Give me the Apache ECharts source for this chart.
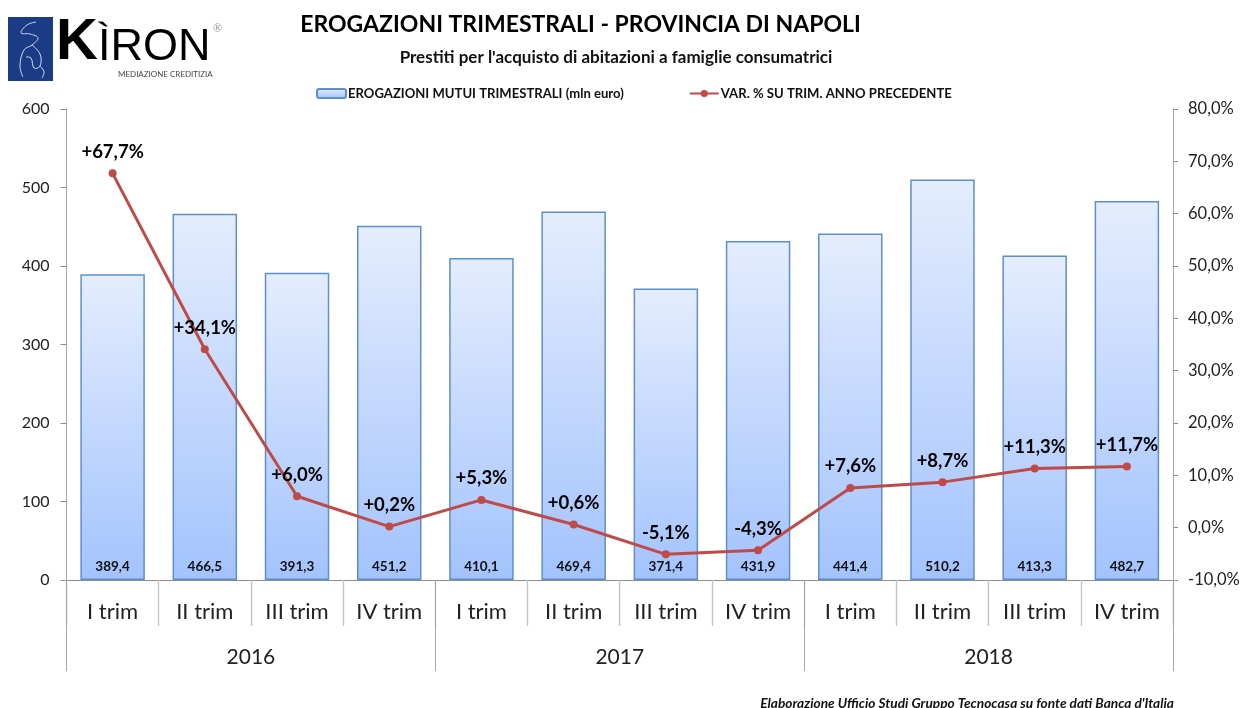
<!DOCTYPE html>
<html><head><meta charset="utf-8">
<style>html,body{margin:0;padding:0;background:#fff}#c{width:1248px;height:708px}</style>
<script src="https://cdn.jsdelivr.net/npm/echarts@6/dist/echarts.min.js"></script>
</head><body><div id="c"></div>
<script>
const quarters=['I trim','II trim','III trim','IV trim','I trim','II trim','III trim','IV trim','I trim','II trim','III trim','IV trim'];
const years=['2016','2017','2018'];
const erogazioni=[389.4,466.5,391.3,451.2,410.1,469.4,371.4,431.9,441.4,510.2,413.3,482.7];
const variazioni=[67.7,34.1,6.0,0.2,5.3,0.6,-5.1,-4.3,7.6,8.7,11.3,11.7];
const barName='EROGAZIONI MUTUI TRIMESTRALI (mln euro)';
const lineName='VAR. % SU TRIM. ANNO PRECEDENTE';
const F='Lato, "Open Sans", sans-serif';
const comma=(v,d)=>v.toFixed(d).replace('.',',');
const chart=echarts.init(document.getElementById('c'),null,{renderer:'canvas'});
const axisGray='#a6a6a6';
const grad=new echarts.graphic.LinearGradient(0,0,0,1,[{offset:0,color:'#e4edfd'},{offset:1,color:'#a3c3fd'}]);
const logoStroke={fill:'none',stroke:'#cfd8ee',lineWidth:1};
chart.setOption({
  animation:false,
  backgroundColor:'#fff',
  textStyle:{fontFamily:F},
  title:[
    {text:'EROGAZIONI TRIMESTRALI - PROVINCIA DI NAPOLI',left:575.5,top:8,textAlign:'center',
      textStyle:{fontFamily:F,fontSize:23,fontWeight:'bold',color:'#000'}},
    {text:"Prestiti per l'acquisto di abitazioni a famiglie consumatrici",left:611,top:44,textAlign:'center',
      textStyle:{fontFamily:F,fontSize:17,fontWeight:'bold',color:'#111'}},
    {text:"Elaborazione Ufficio Studi Gruppo Tecnocasa su fonte dati Banca d'Italia",left:1169,top:692,textAlign:'right',
      textStyle:{fontFamily:F,fontSize:13.7,fontWeight:'bold',fontStyle:'italic',color:'#111'}}
  ],
  legend:{
    top:82,left:311,itemGap:65,itemWidth:29,itemHeight:9,
    selectedMode:false,
    textStyle:{fontFamily:F,fontSize:13.1,fontWeight:'bold',color:'#111',padding:[0,0,0,-3]},
    data:[{name:barName},{name:lineName}]
  },
  grid:{left:66.5,right:75,top:109,bottom:128,containLabel:false},
  xAxis:[
    {type:'category',data:quarters,position:'bottom',
      axisLine:{show:true,onZero:false,lineStyle:{color:'#8c8c8c',width:1}},
      axisTick:{show:true,interval:0,length:46,alignWithLabel:false,lineStyle:{color:'#c4c4c4',width:1.4}},
      axisLabel:{interval:0,fontFamily:F,fontSize:22,color:'#222',margin:21}},
    {type:'category',data:years,position:'bottom',
      axisLine:{show:false},
      axisTick:{show:true,interval:0,length:91,alignWithLabel:false,lineStyle:{color:'#a6a6a6',width:1}},
      axisLabel:{interval:0,fontFamily:F,fontSize:21,color:'#222',margin:67}}
  ],
  yAxis:[
    {type:'value',min:0,max:600,interval:100,
      axisLine:{show:true,lineStyle:{color:axisGray}},
      axisTick:{show:true,length:6,lineStyle:{color:'#8c8c8c'}},
      splitLine:{show:false},
      axisLabel:{fontFamily:F,fontSize:16,color:'#222',margin:17}},
    {type:'value',min:-10,max:80,interval:10,position:'right',
      axisLine:{show:true,lineStyle:{color:axisGray}},
      axisTick:{show:true,length:5,lineStyle:{color:'#8c8c8c'}},
      splitLine:{show:false},
      axisLabel:{fontFamily:F,fontSize:16.5,color:'#222',margin:15,formatter:v=>comma(v,1)+'%'}}
  ],
  series:[
    {name:barName,type:'bar',xAxisIndex:0,yAxisIndex:0,data:erogazioni,barWidth:64.5,
      itemStyle:{color:grad,borderColor:'#5f8fcb',borderWidth:1.5},
      label:{show:true,position:'insideBottom',distance:6,fontFamily:F,fontSize:13.5,fontWeight:'bold',color:'#111',
        formatter:p=>comma(p.value,1)},
      z:2},
    {name:lineName,type:'line',xAxisIndex:0,yAxisIndex:1,data:variazioni,
      symbol:'circle',symbolSize:8,
      lineStyle:{color:'#be4b48',width:3},
      itemStyle:{color:'#be4b48'},
      label:{show:true,position:'top',distance:8,fontFamily:F,fontSize:18.5,fontWeight:'bold',color:'#000',
        formatter:p=>(p.value>=0?'+':'')+comma(p.value,1)+'%'},
      z:3}
  ],
  graphic:{elements:[
    {type:'rect',shape:{x:8,y:17,width:45,height:64},style:{fill:'#1c3b87'}},
    {type:'polyline',shape:{smooth:0.4,points:[[36,22],[27,25],[21,33],[30,34],[38,38],[32,45],[24,50],[20,66],[23,77]]},style:logoStroke},
    {type:'polyline',shape:{smooth:0.4,points:[[32,45],[40,54],[40,66],[34,68],[31,58],[26,57]]},style:logoStroke},
    {type:'polyline',shape:{smooth:0.4,points:[[40,66],[44,72],[42,78]]},style:logoStroke},
    {type:'text',x:56,y:14,style:{text:'K',fontFamily:'"Liberation Sans",sans-serif',fontWeight:'bold',fontSize:58,fill:'#000'}},
    {type:'text',x:98,y:25,style:{text:'ÌRON',fontFamily:'"Liberation Sans",sans-serif',fontSize:45,fill:'#000'}},
    {type:'text',x:118,y:70,style:{text:'MEDIAZIONE CREDITIZIA',fontFamily:F,fontSize:8,fill:'#444'}},
    {type:'text',x:213,y:23,style:{text:'®',fontFamily:F,fontSize:11,fill:'#999'}}
  ]}
});
</script></body></html>
